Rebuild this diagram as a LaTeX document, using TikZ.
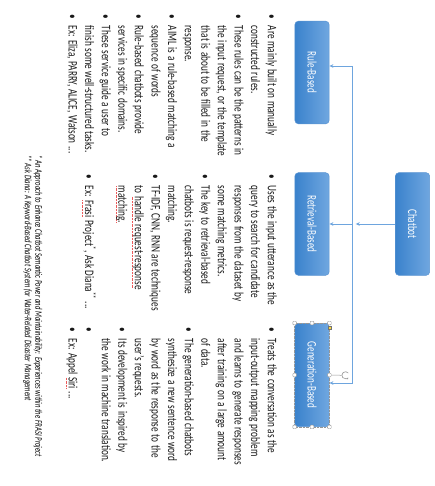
\documentclass[tikz,border=0pt]{standalone}
\usepackage{fontspec}
\setmainfont{Carlito}[WordSpace=1.25]
\usepackage{graphicx}
\usetikzlibrary{arrows.meta}
\definecolor{boxdark}{RGB}{58,130,204}
\definecolor{boxlight}{RGB}{112,167,224}
\definecolor{boxedge}{RGB}{90,148,210}
\definecolor{linkblue}{RGB}{110,165,222}
\definecolor{squig}{RGB}{235,90,90}
\definecolor{txt}{RGB}{25,25,25}
\definecolor{handlegray}{RGB}{150,150,150}
\definecolor{adjyellow}{RGB}{250,215,60}
\newsavebox\sqbox
\newcommand\redsq[1]{\sbox\sqbox{#1}\leavevmode\rlap{\color{squig}\leaders\hbox to 2pt{\hss\vrule height -2.0pt depth 2.8pt width 1.1pt\hss}\hskip\wd\sqbox}#1}
\newcommand\bul{\makebox[16.4pt][l]{\strut•}}
\newcommand\cont{\hspace*{16.4pt}}
\newcommand\condensed[1]{\scalebox{0.7}[1]{#1}}
\tikzset{
  catbox/.style={rounded corners=3.5pt, draw=boxedge, line width=0.5pt,
    left color=boxdark, right color=boxlight,
    minimum width=34.3pt, minimum height=102.6pt, inner sep=0pt,
    text=white, font=\fontsize{13}{15}\selectfont},
  column/.style={rotate=-90, xscale=0.71, anchor=north west, inner sep=0pt, align=left,
    text=txt, font=\fontsize{13}{16.6}\selectfont},
  note/.style={rotate=-90, xscale=0.67, anchor=north west, inner sep=0pt, align=left,
    text=black, font=\fontsize{10}{10.5}\selectfont\itshape},
  conn/.style={draw=linkblue, line width=0.9pt, -{Stealth[length=4pt,width=3.6pt]}},
  plain/.style={draw=linkblue, line width=0.9pt},
  handle/.style={draw=handlegray, fill=white, line width=0.4pt, rounded corners=0.8pt,
    minimum size=3.6pt, inner sep=0pt},
}
\begin{document}
\begin{tikzpicture}[x=1pt,y=1pt]
\useasboundingbox (0,0) rectangle (435,-486);

% category boxes
\node[catbox] (chat) at (412.5,-224) {\rotatebox{-90}{\condensed{Chatbot}}};
\node[catbox] (rule) at (312,-72.5) {\rotatebox{-90}{\condensed{Rule-Based}}};
\node[catbox] (retr) at (312,-224) {\rotatebox{-90}{\condensed{Retrieval-Based}}};
\node[catbox, minimum height=103.4pt] (gen) at (312,-375) {\rotatebox{-90}{\condensed{Generation-Based}}};

% connectors
\coordinate (busTop) at (352.5,-66);
\coordinate (busMid) at (352.5,-224);
\coordinate (busBot) at (352.5,-383);
\coordinate (tipMark) at (355.7,-224);
\draw[plain] (busTop) -- (busBot);
\draw[conn] (chat.west) -- (tipMark);
\draw[conn] (busMid) -- (retr.east);
\draw[conn] (busTop) -- (busTop -| rule.east);
\draw[conn] (busBot) -- (busBot -| gen.east);

% selection handles on Generation-Based
\draw[handlegray, densely dotted, line width=0.4pt] (gen.north west) rectangle (gen.south east);
\foreach \n/\a in {nw/north west,n/north,ne/north east,w/west,e/east,sw/south west,s/south,se/south east}
  \node[handle] (h\n) at (gen.\a) {};
\coordinate (rotc) at (345.5,-375.3);
\draw[handlegray, line width=0.5pt] (he.east) -- (341.7,-375.3);
\draw[handlegray, line width=0.6pt, -{Stealth[length=1.8pt,width=2pt]}]
  ([shift={(40:3.6)}]rotc) arc (40:320:3.6);
\node[fill=adjyellow, draw=black!55, line width=0.3pt, minimum size=3pt, inner sep=0pt] (adj) at (330,-328) {};

% text columns
\node[column] (ruletext) at (279.6,-14) {%
\bul Are mainly built on manually\\
\cont constructed rules.\\
\bul These rules can be the patterns in\\
\cont the input request, or the template\\
\cont that is about to be filled in the\\
\cont response.\\
\bul AIML is a rule-based matching a\\
\cont sequence of words\\
\bul Rule-based chatbots provide\\
\cont services in specific domains.\\
\bul These service guide a user to\\
\cont finish some well-structured tasks.\\
\bul Ex: Eliza, PARRY, ALICE, Watson ...};

\node[column] (retrtext) at (279.6,-174) {%
\bul Uses the input utterance as the\\
\cont query to search for candidate\\
\cont responses from the dataset by\\
\cont some matching metrics.\\
\bul The key to retrieval-based\\
\cont chatbots is request-response\\
\cont matching.\\
\bul TF-IDF, CNN, RNN are techniques\\
\cont to \redsq{handle request-response}\\
\cont \redsq{matching.}\\
\strut\\
\bul Ex: \redsq{Frasi} Project\textsuperscript{*}, Ask Diana\textsuperscript{**} ...};

\node[column] (gentext) at (279.6,-327) {%
\bul Treats the conversation as the\\
\cont input-output mapping problem\\
\cont and learns to generate responses\\
\cont after training on a large amount\\
\cont of data.\\
\bul The generation-based chatbots\\
\cont synthesize a new sentence word\\
\cont by word as the response to the\\
\cont user’s requests.\\
\bul Its development is inspired by\\
\cont the work in machine translation.\\
\bul\\
\bul Ex: Appel \redsq{Siri} ...};

% footnotes
\node[note] (notes) at (42.9,-155) {\strut* An Approach to Enhance Chatbot Semantic Power and Maintainability: Experiences within the FRASI Project\\** Ask Diana: A Keyword-Based Chatbot System for Water-Related Disaster Management};
\end{tikzpicture}
\end{document}
